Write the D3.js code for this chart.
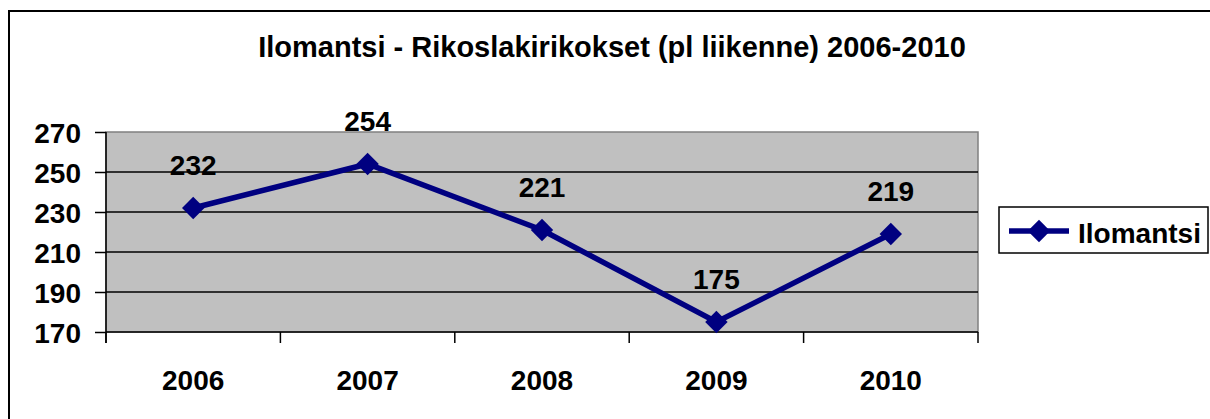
<!DOCTYPE html>
<html>
<head>
<meta charset="utf-8">
<script src="https://cdn.jsdelivr.net/npm/d3@7"></script>
<style>
  body { margin: 0; background: #fff; }
  svg text { font-family: "Liberation Sans", Arial, sans-serif; font-weight: bold; fill: #000; }
</style>
</head>
<body>
<svg id="chart" width="1210" height="419"></svg>
<script>
// data
const years = ["2006", "2007", "2008", "2009", "2010"];
const values = [232, 254, 221, 175, 219];
const yTicks = [170, 190, 210, 230, 250, 270];
const seriesName = "Ilomantsi";
const chartTitle = "Ilomantsi - Rikoslakirikokset (pl liikenne) 2006-2010";

const svg = d3.select("#chart");
const plot = { left: 106, right: 978, top: 132, bottom: 332 };
const navy = "#000080";

const x = d3.scaleBand().domain(years).range([plot.left, plot.right]);
const y = d3.scaleLinear().domain([170, 270]).range([plot.bottom, plot.top]);

// outer frame (cut off on right and bottom)
svg.append("rect")
    .attr("x", 9).attr("y", 11)
    .attr("width", 1230).attr("height", 430)
    .attr("fill", "#fff").attr("stroke", "#000").attr("stroke-width", 2);

// title
svg.append("text")
    .attr("x", 612).attr("y", 57)
    .attr("text-anchor", "middle")
    .style("font-size", "29px")
    .text(chartTitle);

// plot background
svg.append("rect")
    .attr("x", plot.left).attr("y", plot.top)
    .attr("width", plot.right - plot.left).attr("height", plot.bottom - plot.top)
    .attr("fill", "#c0c0c0")
    .attr("stroke", "#808080").attr("stroke-width", 1.5);

// gridlines
svg.append("g")
    .selectAll("line")
    .data(yTicks.filter(d => d > 170 && d < 270))
    .join("line")
    .attr("x1", plot.left).attr("x2", plot.right)
    .attr("y1", d => y(d)).attr("y2", d => y(d))
    .attr("stroke", "#000").attr("stroke-width", 1.5);

// y axis
const yAxis = svg.append("g")
    .attr("transform", `translate(${plot.left},0)`)
    .call(d3.axisLeft(y).tickValues(yTicks).tickSize(11).tickPadding(14).tickSizeOuter(0));
yAxis.select(".domain").remove();
yAxis.selectAll(".tick line").attr("stroke", "#000").attr("stroke-width", 1.5);
yAxis.selectAll(".tick text").style("font-size", "28px").attr("dy", "0.36em");
svg.append("line")
    .attr("x1", plot.left).attr("x2", plot.left)
    .attr("y1", plot.top).attr("y2", plot.bottom + 11)
    .attr("stroke", "#000").attr("stroke-width", 1.5);

// x axis
svg.append("line")
    .attr("x1", plot.left).attr("x2", plot.right)
    .attr("y1", plot.bottom).attr("y2", plot.bottom)
    .attr("stroke", "#000").attr("stroke-width", 1.5);
const bounds = years.map(d => x(d)).concat([x(years[years.length - 1]) + x.bandwidth()]);
svg.append("g")
    .selectAll("line")
    .data(bounds)
    .join("line")
    .attr("x1", d => d).attr("x2", d => d)
    .attr("y1", plot.bottom).attr("y2", plot.bottom + 11)
    .attr("stroke", "#000").attr("stroke-width", 1.5);
svg.append("g")
    .selectAll("text")
    .data(years)
    .join("text")
    .attr("x", d => x(d) + x.bandwidth() / 2)
    .attr("y", 390)
    .attr("text-anchor", "middle")
    .style("font-size", "28px")
    .text(d => d);

// series line
const pts = years.map((d, i) => ({ year: d, value: values[i] }));
const cx = d => x(d.year) + x.bandwidth() / 2;
svg.append("path")
    .datum(pts)
    .attr("fill", "none")
    .attr("stroke", navy)
    .attr("stroke-width", 5.5)
    .attr("stroke-linejoin", "miter")
    .attr("d", d3.line().x(cx).y(d => y(d.value)));

const diamond = d3.symbol().type(d3.symbolDiamond2).size(320);
svg.append("g")
    .selectAll("path")
    .data(pts)
    .join("path")
    .attr("transform", d => `translate(${cx(d)},${y(d.value)})`)
    .attr("d", diamond)
    .attr("fill", navy);

// data labels
svg.append("g")
    .selectAll("text")
    .data(pts)
    .join("text")
    .attr("x", cx)
    .attr("y", d => y(d.value) - 33)
    .attr("text-anchor", "middle")
    .style("font-size", "28px")
    .text(d => d.value);

// legend
const legend = svg.append("g");
legend.append("rect")
    .attr("x", 999).attr("y", 207)
    .attr("width", 209).attr("height", 46)
    .attr("fill", "#fff").attr("stroke", "#000").attr("stroke-width", 1.5);
legend.append("line")
    .attr("x1", 1009).attr("x2", 1069)
    .attr("y1", 231).attr("y2", 231)
    .attr("stroke", navy).attr("stroke-width", 5.5);
legend.append("path")
    .attr("transform", "translate(1039,231)")
    .attr("d", diamond)
    .attr("fill", navy);
legend.append("text")
    .attr("x", 1078).attr("y", 243)
    .style("font-size", "28px")
    .text(seriesName);
</script>
</body>
</html>
